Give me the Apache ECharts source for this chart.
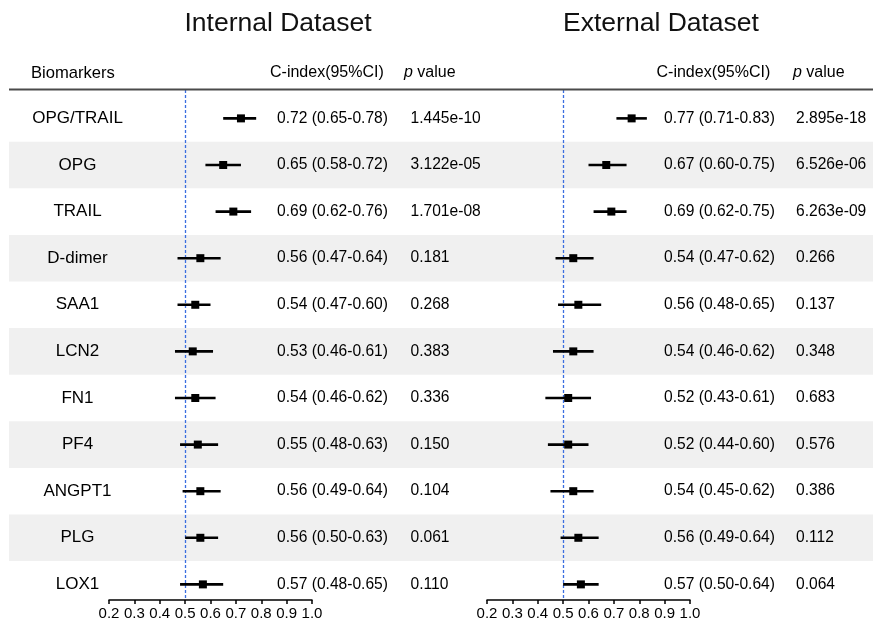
<!DOCTYPE html>
<html><head><meta charset="utf-8">
<script src="https://cdn.jsdelivr.net/npm/echarts@6/dist/echarts.min.js"></script>
<style>html,body{margin:0;padding:0;background:#fff}#c{width:875px;height:621px}</style>
</head><body><div id="c"></div>
<script>
const categories = ['OPG/TRAIL','OPG','TRAIL','D-dimer','SAA1','LCN2','FN1','PF4','ANGPT1','PLG','LOX1'];
const intEst  = [0.72,0.65,0.69,0.56,0.54,0.53,0.54,0.55,0.56,0.56,0.57];
const intLow  = [0.65,0.58,0.62,0.47,0.47,0.46,0.46,0.48,0.49,0.50,0.48];
const intHigh = [0.78,0.72,0.76,0.64,0.60,0.61,0.62,0.63,0.64,0.63,0.65];
const intP    = ['1.445e-10','3.122e-05','1.701e-08','0.181','0.268','0.383','0.336','0.150','0.104','0.061','0.110'];
const extEst  = [0.77,0.67,0.69,0.54,0.56,0.54,0.52,0.52,0.54,0.56,0.57];
const extLow  = [0.71,0.60,0.62,0.47,0.48,0.46,0.43,0.44,0.45,0.49,0.50];
const extHigh = [0.83,0.75,0.75,0.62,0.65,0.62,0.61,0.60,0.62,0.64,0.64];
const extP    = ['2.895e-18','6.526e-06','6.263e-09','0.266','0.137','0.348','0.683','0.576','0.386','0.112','0.064'];
const xMin = 0.2, xMax = 1.0, xInterval = 0.1, refLine = 0.5;

const FONT = '"Liberation Sans", Arial, Helvetica, sans-serif';
const chart = echarts.init(document.getElementById('c'), null, {renderer:'canvas'});

const yBase = {type:'value', inverse:true, min:-0.609, max:10.335, show:false};
const gridTop = 90, gridBottom = 21;

function ci(e,l,h){ return e.toFixed(2)+' ('+l.toFixed(2)+'-'+h.toFixed(2)+')'; }

function forestItem(params, api){
  const k = api.value(0);
  const e = api.coord([api.value(1), k]);
  const lo = api.coord([api.value(2), k]);
  const hi = api.coord([api.value(3), k]);
  return {type:'group', children:[
    {type:'line', shape:{x1:lo[0], y1:lo[1], x2:hi[0], y2:hi[1]}, style:{stroke:'#000', lineWidth:2.6}},
    {type:'rect', shape:{x:e[0]-4, y:e[1]-4, width:8, height:8}, style:{fill:'#000'}}
  ]};
}

const xAxisCommon = {
  type:'value', min:xMin, max:xMax, interval:xInterval,
  axisLine:{show:true, onZero:false, lineStyle:{color:'#000', width:1.5}},
  axisTick:{show:true, length:4, lineStyle:{color:'#000', width:1.5}},
  axisLabel:{color:'#000', fontSize:15, fontFamily:FONT, margin:6, formatter:v=>v.toFixed(1)},
  splitLine:{show:false}
};

const markLineDef = {silent:true, symbol:'none', label:{show:false},
  lineStyle:{color:'#3a6ee0', type:[3,2], width:1.3}, data:[{xAxis:refLine}]};

const bandData = categories.map((c,i)=>i).filter(i=>i%2===1);
const rowData = categories.map((c,i)=>i);

const option = {
  animation:false,
  grid:[
    {left:9, right:2, top:gridTop, bottom:gridBottom},
    {left:109, right:563, top:gridTop, bottom:gridBottom},
    {left:487, right:185, top:gridTop, bottom:gridBottom}
  ],
  xAxis:[
    {gridIndex:0, type:'value', min:0, max:1, show:false},
    Object.assign({gridIndex:1}, xAxisCommon),
    Object.assign({gridIndex:2}, xAxisCommon)
  ],
  yAxis:[
    Object.assign({gridIndex:0}, yBase),
    Object.assign({gridIndex:1}, yBase),
    Object.assign({gridIndex:2}, yBase)
  ],
  series:[
    {type:'custom', xAxisIndex:0, yAxisIndex:0, z:1, silent:true,
     data:bandData.map(k=>[k]), encode:{y:0},
     renderItem:(p,api)=>{
       const k = api.value(0);
       const a = api.coord([0, k-0.5]), b = api.coord([1, k+0.5]);
       return {type:'rect', shape:{x:a[0], y:a[1], width:b[0]-a[0], height:b[1]-a[1]}, style:{fill:'#f0f0f0'}};
     }},
    {type:'custom', xAxisIndex:0, yAxisIndex:0, z:5, silent:true,
     data:rowData.map(k=>[k]), encode:{y:0},
     renderItem:(p,api)=>{
       const k = api.value(0);
       const y = api.coord([0,k])[1];
       const st = (t,x,align,fs)=>({type:'text', style:{text:t, x:x, y:y, fill:'#000', fontSize:fs, fontFamily:FONT, align:align, verticalAlign:'middle'}});
       return {type:'group', children:[
         st(categories[k], 77.5, 'center', 17),
         st(ci(intEst[k],intLow[k],intHigh[k]), 277, 'left', 15.6),
         st(intP[k], 410.5, 'left', 15.6),
         st(ci(extEst[k],extLow[k],extHigh[k]), 664, 'left', 15.6),
         st(extP[k], 796, 'left', 15.6)
       ]};
     }},
    {type:'custom', xAxisIndex:1, yAxisIndex:1, z:6,
     data:categories.map((c,i)=>[i,intEst[i],intLow[i],intHigh[i]]),
     encode:{x:[1,2,3], y:0}, renderItem:forestItem, markLine:markLineDef},
    {type:'custom', xAxisIndex:2, yAxisIndex:2, z:6,
     data:categories.map((c,i)=>[i,extEst[i],extLow[i],extHigh[i]]),
     encode:{x:[1,2,3], y:0}, renderItem:forestItem, markLine:markLineDef}
  ],
  graphic:[
    {type:'text', x:278, y:24, style:{text:'Internal Dataset', fill:'#111', fontSize:26.5, fontFamily:FONT, align:'center', verticalAlign:'middle'}},
    {type:'text', x:661, y:24, style:{text:'External Dataset', fill:'#111', fontSize:26.5, fontFamily:FONT, align:'center', verticalAlign:'middle'}},
    {type:'text', x:31, y:73, style:{text:'Biomarkers', fill:'#000', fontSize:16.6, fontFamily:FONT, align:'left', verticalAlign:'middle'}},
    {type:'text', x:270, y:73, style:{text:'C-index(95%CI)', fill:'#000', fontSize:16, fontFamily:FONT, align:'left', verticalAlign:'middle'}},
    {type:'text', x:404, y:73, style:{text:'{i|p} value', fill:'#000', fontSize:16, fontFamily:FONT, align:'left', verticalAlign:'middle', rich:{i:{fontStyle:'italic', fontSize:16, fontFamily:FONT, fill:'#000'}}}},
    {type:'text', x:656.5, y:73, style:{text:'C-index(95%CI)', fill:'#000', fontSize:16, fontFamily:FONT, align:'left', verticalAlign:'middle'}},
    {type:'text', x:793, y:73, style:{text:'{i|p} value', fill:'#000', fontSize:16, fontFamily:FONT, align:'left', verticalAlign:'middle', rich:{i:{fontStyle:'italic', fontSize:16, fontFamily:FONT, fill:'#000'}}}},
    {type:'line', shape:{x1:9, y1:89.5, x2:873, y2:89.5}, style:{stroke:'#4a4a4a', lineWidth:2}, z:10}
  ]
};
chart.setOption(option);
</script>
</body></html>
